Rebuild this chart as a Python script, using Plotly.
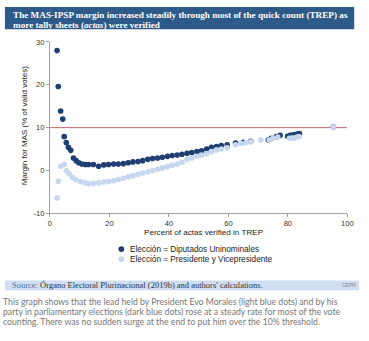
import plotly.graph_objects as go

# ---- data ----
dip_x = [2.4, 2.8, 3.6, 4.3, 4.8, 5.5, 6.2, 7.0, 7.9, 8.8, 9.7, 10.8, 11.9, 13.0, 14.6, 16.4,
         18.1, 19.7, 21.4, 23.0, 24.7, 26.3, 27.9, 29.6, 31.2, 32.9, 34.5, 36.2, 37.8, 39.5,
         41.1, 42.8, 44.4, 46.1, 47.7, 49.4, 51.0, 52.7, 54.3, 56.0, 57.6, 59.6, 62.4, 65.1,
         67.5, 73.4, 74.4, 76.1, 77.4, 79.9, 80.8, 81.6, 82.4, 83.2, 83.9, 95.3]
dip_y = [28.0, 19.6, 13.9, 12.0, 7.9, 6.5, 5.4, 4.7, 2.9, 2.3, 1.8, 1.5, 1.4, 1.4, 1.4, 1.0,
         1.3, 1.4, 1.5, 1.5, 1.6, 1.8, 2.0, 2.1, 2.3, 2.6, 2.8, 2.9, 3.1, 3.3,
         3.5, 3.6, 3.8, 4.0, 4.2, 4.4, 4.6, 5.0, 5.4, 5.6, 5.8, 6.0, 6.4, 6.6,
         6.8, 7.1, 7.5, 7.9, 8.2, 8.0, 8.2, 8.3, 8.4, 8.5, 8.6, 10.2]

pres_x = [2.4, 2.8, 3.6, 4.8, 5.5, 6.5, 7.6, 8.7, 10.3, 11.9, 13.0, 14.7, 16.4, 18.1, 19.7,
          21.4, 23.0, 24.7, 26.3, 27.9, 29.6, 31.2, 32.9, 34.5, 36.2, 37.8, 39.5, 41.1, 42.8,
          44.4, 46.1, 47.7, 49.4, 51.0, 52.7, 54.3, 56.0, 57.6, 59.6, 62.4, 64.2, 65.9, 67.5,
          70.9, 73.7, 75.0, 76.6, 80.5, 81.3, 82.1, 83.0, 83.8, 95.3]
pres_y = [-6.4, -2.5, 1.0, 1.4, -0.1, -0.8, -1.6, -2.1, -2.6, -2.9, -3.1, -3.0, -2.9, -2.7, -2.6,
          -2.4, -2.1, -1.8, -1.5, -1.2, -0.9, -0.6, -0.3, 0.0, 0.3, 0.6, 0.9, 1.2, 1.5,
          1.9, 2.6, 2.9, 3.3, 3.6, 3.9, 4.4, 4.8, 5.0, 5.3, 6.0, 6.3, 6.5, 6.7,
          7.1, 7.1, 7.6, 7.8, 7.5, 7.6, 7.6, 7.8, 7.9, 10.2]

x_ticks = [0, 20, 40, 60, 80, 100]
y_ticks = [-10, 0, 10, 20, 30]
threshold = 10

title_lines = ["The MAS-IPSP margin increased steadily through most of the quick count (TREP) as",
               "more tally sheets (<i>actas</i>) were verified"]
legend_labels = ["Elección = Diputados Uninominales", "Elección = Presidente y Vicepresidente"]
caption_lines = [
    "This graph shows that the lead held by President Evo Morales (light blue dots) and by his",
    "party in parliamentary elections (dark blue dots) rose at a steady rate for most of the vote",
    "counting. There was no sudden surge at the end to put him over the 10% threshold.",
]

# ---- styling ----
W, H = 369, 341
DARK = "#1f3e72"
LIGHT = "#c6d7ef"

def px(x):
    return x / W

def py(y):
    return 1 - y / H

fig = go.Figure()
fig.add_trace(go.Scatter(x=dip_x, y=dip_y, mode="markers", name=legend_labels[0],
                         marker=dict(color=DARK, size=5.6, line=dict(width=0))))
fig.add_trace(go.Scatter(x=pres_x, y=pres_y, mode="markers", name=legend_labels[1],
                         marker=dict(color=LIGHT, size=5.6, line=dict(width=0))))

axis_font = dict(family="Liberation Sans, Arial, sans-serif", size=7.6, color="#333")
fig.update_layout(
    width=W, height=H, margin=dict(l=0, r=0, t=0, b=0),
    paper_bgcolor="white", plot_bgcolor="white", showlegend=False,
    xaxis=dict(domain=[px(49), px(353)], range=[0, 100], tickmode="array", tickvals=x_ticks,
               ticktext=[str(v) for v in x_ticks], ticklabeloverflow="allow",
               showgrid=False, zeroline=False, showline=True, linecolor="#a0a0a0",
               linewidth=1, ticks="outside", ticklen=3, tickcolor="#a0a0a0",
               tickfont=axis_font),
    yaxis=dict(domain=[py(215), py(39)], range=[-10, 30], tickmode="array", tickvals=y_ticks,
               ticktext=[str(v) for v in y_ticks], ticklabeloverflow="allow",
               showgrid=False, zeroline=False, showline=True, linecolor="#a0a0a0",
               linewidth=1, ticks="outside", ticklen=3, tickcolor="#a0a0a0",
               tickfont=axis_font),
)

shapes = [
    dict(type="line", xref="x", yref="y", x0=0, x1=100, y0=threshold, y1=threshold,
         line=dict(color="#c8646a", width=1), layer="below"),
    dict(type="rect", xref="paper", yref="paper", x0=px(3), x1=px(360), y0=py(26), y1=py(3),
         fillcolor="#2d5a88", line=dict(width=0)),
    dict(type="rect", xref="paper", yref="paper", x0=px(3), x1=px(365), y0=py(294), y1=py(284),
         fillcolor="#cfdef1", line=dict(width=0)),
]
# legend markers
for i, col in enumerate([DARK, LIGHT]):
    cy = 251.7 + i * 10.3
    shapes.append(dict(type="circle", xref="paper", yref="paper",
                       x0=px(119), x1=px(125), y0=py(cy + 3), y1=py(cy - 3),
                       fillcolor=col, line=dict(width=0)))
fig.update_layout(shapes=shapes)

ann = []
for i, t in enumerate(title_lines):
    ann.append(dict(text="<b>" + t + "</b>", x=px(9), y=py(11.5 + i * 10.5), xref="paper", yref="paper",
                    xanchor="left", yanchor="middle", showarrow=False,
                    font=dict(family="Liberation Serif, Times New Roman, serif", size=9.2, color="white")))
ann.append(dict(text="Margin for MAS (% of valid votes)", x=px(23), y=py(125), xref="paper",
                yref="paper", textangle=-90, showarrow=False, xanchor="center", yanchor="middle",
                font=dict(family="Liberation Sans, Arial, sans-serif", size=8, color="#222")))
ann.append(dict(text="Percent of actas verified in TREP", x=px(206), y=py(235), xref="paper",
                yref="paper", showarrow=False, xanchor="center", yanchor="middle",
                font=dict(family="Liberation Sans, Arial, sans-serif", size=8.1, color="#222")))
for i, t in enumerate(legend_labels):
    ann.append(dict(text=t, x=px(129), y=py(251.7 + i * 10.3), xref="paper", yref="paper",
                    showarrow=False, xanchor="left", yanchor="middle",
                    font=dict(family="Liberation Sans, Arial, sans-serif", size=8.2, color="#222")))
ann.append(dict(text="<span style='color:#4f6f9c'>Source:</span> Órgano Electoral Plurinacional (2019b) and authors' calculations.",
                x=px(8), y=py(289), xref="paper", yref="paper", showarrow=False,
                xanchor="left", yanchor="middle",
                font=dict(family="Liberation Serif, Times New Roman, serif", size=8.5, color="#333")))
ann.append(dict(text="CEPR", x=px(364), y=py(288.5), xref="paper", yref="paper", showarrow=False,
                xanchor="right", yanchor="middle",
                font=dict(family="Liberation Sans, Arial, sans-serif", size=5, color="#888")))
for i, t in enumerate(caption_lines):
    ann.append(dict(text=t, x=px(0), y=py(305.8 + i * 10.3), xref="paper", yref="paper",
                    showarrow=False, xanchor="left", yanchor="middle", borderpad=0,
                    font=dict(family="Lato, sans-serif", size=8.7, color="#777")))
fig.update_layout(annotations=ann)

fig.write_html("out.html")
